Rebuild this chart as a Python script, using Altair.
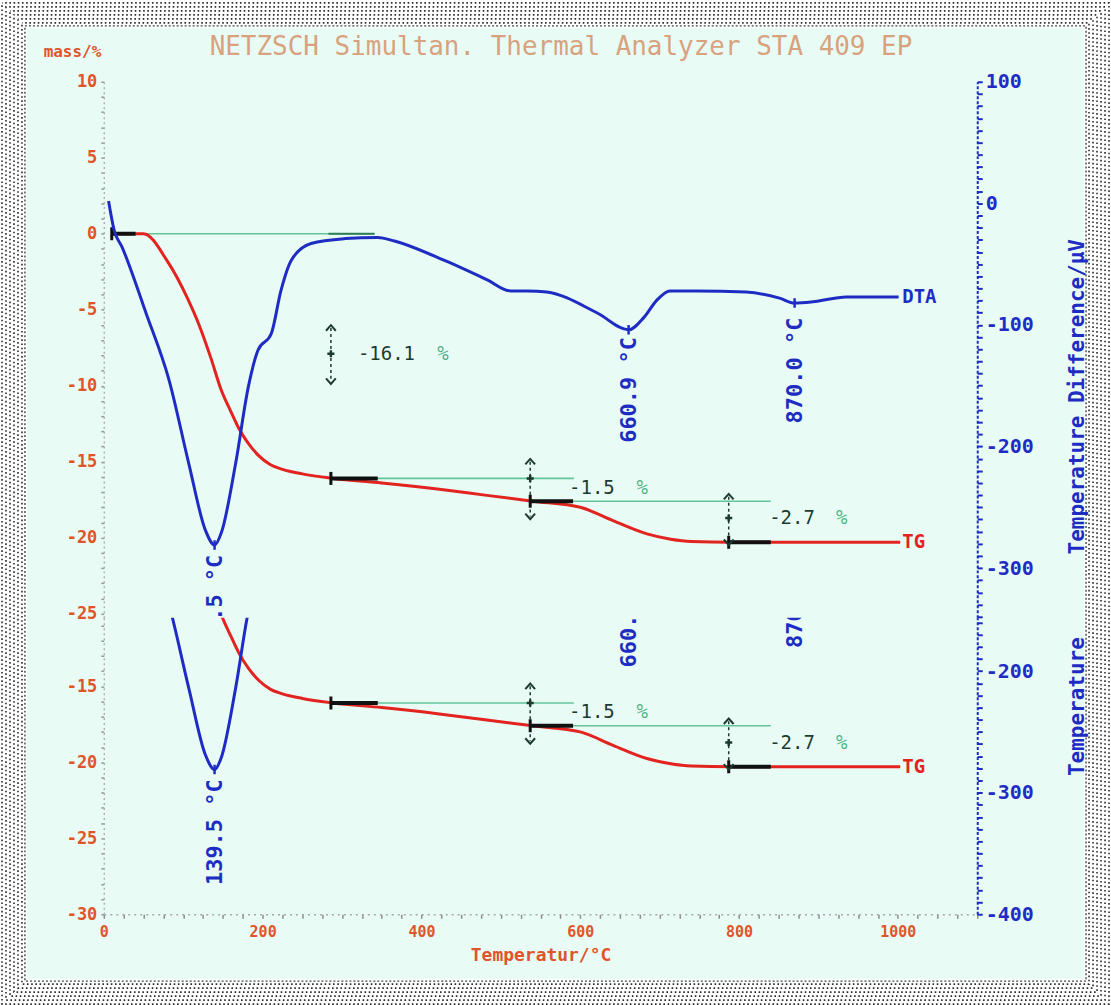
import altair as alt
import pandas as pd

# ---------------- data ----------------
# TG curve: temperature (°C) and mass change (%)
TG_T = [20, 50, 80, 105, 120, 135, 148, 160, 170, 182, 195, 210, 225, 250, 289,
        350, 420, 480, 540, 600, 642, 684, 714, 740, 790, 900, 1003]
TG_M = [0.0, 0.0, -1.8, -4.2, -6.0, -8.2, -10.3, -11.7, -12.8, -13.8, -14.6, -15.2,
        -15.5, -15.8, -16.1, -16.4, -16.8, -17.2, -17.6, -18.0, -18.9, -19.75,
        -20.1, -20.25, -20.3, -20.3, -20.3]

# DTA curve: temperature (°C) and temperature difference (µV)
DTA_T = [6, 13, 23, 53, 82, 107, 128, 139.5, 148, 166, 182, 194, 211, 223, 236,
         261, 304, 345, 366, 429, 483, 512, 533, 558, 621, 660.9, 680, 696, 713,
         747, 809, 851, 870.0, 893, 935, 1001]
DTA_U = [2, -22, -36, -90, -145, -214, -269, -281, -271, -214, -151, -121, -107,
         -72, -47, -33, -29, -28, -31, -47, -63, -72, -72, -73, -90, -104, -94,
         -80, -72, -72, -73, -78, -82, -81, -77, -77]

# step evaluation: green reference lines
REF_T1 = [10, 286, 537]
REF_T2 = [341, 592, 840]
REF_M = [0.0, -16.1, -17.6]
DARK_T1 = [283]
DARK_T2 = [341]
DARK_M = [0.0]
# black step segments
STEP_T1 = [10, 286, 537, 787]
STEP_T2 = [40, 345, 591, 840]
STEP_M = [0.0, -16.1, -17.6, -20.3]
# double arrows of the step evaluation
ARROW_T = [286, 537, 787]
ARROW_TOP = [-6.2, -15.0, -17.3]
ARROW_MID = [-7.9, -16.1, -18.7]
ARROW_BOT = [-9.7, -18.6, -20.3]
STEP_TEXT = ["-16.1", "-1.5", "-2.7"]
STEP_TEXT_T = [320, 586, 838]
STEP_TEXT_M = [-7.9, -16.7, -18.7]
PCT_T = [420, 671, 922]

# DTA peaks
PEAK_T = [139.5, 660.9, 870.0]
PEAK_U = [-281, -104, -82]
PEAK_LABEL = ["139.5 °C", "660.9 °C", "870.0 °C"]
PEAK_LABEL_U = [-289, -110, -94]

END_T = [1003]
TG_END_M = [-20.3]
DTA_END_U = [-77]

LEFT_TICKS = list(range(10, -31, -1))
RIGHT_TICKS = list(range(100, -401, -10))
X_TICKS = list(range(0, 1101, 25))

TITLE = "NETZSCH Simultan. Thermal Analyzer STA 409 EP"

# ---------------- layout / style ----------------
W = 875
H_UP = 537
H_LOW = 297
SKIP = 312              # pixels of the original plot hidden above the lower strip
PX_L = 609 / 40         # px per mass-%
PX_U = 609 / 500        # px per µV
ORIGIN_X, ORIGIN_Y = 103, 80
CANVAS_W, CANVAS_H = 1111, 1005

BG = "#e8fcf5"
RED = "#e2231f"
BLUE = "#1f2cc4"
GREEN = "#62c49a"
DARKG = "#1e3a2e"
ORANGE = "#e0542a"
MONO = "DejaVu Sans Mono"

tg_df = pd.DataFrame({"T": TG_T, "L": TG_M})
dta_df = pd.DataFrame({"T": DTA_T, "U": DTA_U})
ref_df = pd.DataFrame({"T": REF_T1, "T2": REF_T2, "L": REF_M})
dark_df = pd.DataFrame({"T": DARK_T1, "T2": DARK_T2, "L": DARK_M})
step_df = pd.DataFrame({"T": STEP_T1, "T2": STEP_T2, "L": STEP_M})
arrow_df = pd.DataFrame({"T": ARROW_T, "L": ARROW_TOP, "L2": ARROW_BOT})
arrow_top_df = pd.DataFrame({"T": ARROW_T, "L": ARROW_TOP})
arrow_mid_df = pd.DataFrame({"T": ARROW_T, "L": ARROW_MID})
arrow_bot_df = pd.DataFrame({"T": ARROW_T, "L": ARROW_BOT})
text_df = pd.DataFrame({"T": STEP_TEXT_T, "L": STEP_TEXT_M, "label": STEP_TEXT})
pct_df = pd.DataFrame({"T": PCT_T, "L": STEP_TEXT_M, "label": ["%"] * len(PCT_T)})
peak_df = pd.DataFrame({"T": PEAK_T, "U": PEAK_U})
peak_lab_df = pd.DataFrame({"T": PEAK_T, "U": PEAK_LABEL_U, "label": PEAK_LABEL})
tg_end_df = pd.DataFrame({"T": END_T, "L": TG_END_M, "label": ["TG"]})
dta_end_df = pd.DataFrame({"T": END_T, "U": DTA_END_U, "label": ["DTA"]})
frame_src = pd.DataFrame({"k": [0]})

CHEVRON_UP = "M-0.8,0.45L0,-0.45L0.8,0.45"
CHEVRON_DOWN = "M-0.8,-0.45L0,0.45L0.8,-0.45"
PLUS = "M-1,0L1,0M0,-1L0,1"
VTICK = "M0,-1L0,1"


def rect_layer(d, **kw):
    return alt.Chart(frame_src).mark_rect(**kw).encode(
        x=alt.value(d - ORIGIN_X), x2=alt.value(CANVAS_W - d - ORIGIN_X),
        y=alt.value(d - ORIGIN_Y), y2=alt.value(CANVAS_H - d - ORIGIN_Y))


def panel(top_px, height, upper):
    l_top = 10 - top_px / PX_L
    l_bot = l_top - height / PX_L
    u_top = 100 - top_px / PX_U
    u_bot = u_top - height / PX_U

    xs = alt.Scale(domain=[0, 1100], nice=False, zero=False)
    ls = alt.Scale(domain=[l_bot, l_top], nice=False, zero=False)
    us = alt.Scale(domain=[u_bot, u_top], nice=False, zero=False)

    if upper:
        # the instrument header is carried by a bare top axis title
        x_axis = alt.Axis(orient="top", labels=False, ticks=False, domain=False, grid=False,
                          zindex=1, title=TITLE, titleX=W / 2 + 20, titleY=-22,
                          titleAlign="center", titleBaseline="bottom", titleFont=MONO,
                          titleFontSize=26, titleFontWeight="normal", titleColor="#d8a27e")
    else:
        x_axis = alt.Axis(values=X_TICKS, labelExpr="datum.value % 200 == 0 ? '' + datum.value : ''",
                          labelOverlap=False, labelFlush=False, labelBound=False,
                          domainColor="#a8a8a8", domainDash=[2, 4], domainWidth=1.5,
                          tickColor="#8c8c8c", tickSize=4, tickWidth=1.5,
                          labelColor=ORANGE, labelFont=MONO, labelFontSize=15,
                          labelFontWeight="bold", labelPadding=6, grid=False, zindex=1,
                          title="Temperatur/°C", titleColor=ORANGE, titleFont=MONO,
                          titleFontSize=18, titleFontWeight="bold", titleY=41,
                          titleBaseline="middle")

    l_vals = [v for v in LEFT_TICKS if l_bot - 1e-6 <= v <= l_top + 1e-6]
    u_vals = [v for v in RIGHT_TICKS if u_bot - 1e-6 <= v <= u_top + 1e-6]

    left_axis_kw = dict(values=l_vals, labelExpr="datum.value % 5 == 0 ? '' + datum.value : ''",
                        labelOverlap=False, labelFlush=False, labelBound=False,
                        domainColor="#b0b0b0", domainDash=[2, 3], domainWidth=1.5,
                        tickColor="#999999", tickSize=3, tickWidth=1.5,
                        labelColor=ORANGE, labelFont=MONO, labelFontSize=17,
                        labelFontWeight="bold", labelPadding=4, grid=False, zindex=1)
    if upper:
        left_axis = alt.Axis(title="mass/%", titleAngle=0, titleX=-3, titleY=-30,
                             titleAlign="right", titleBaseline="middle", titleColor=ORANGE,
                             titleFont=MONO, titleFontSize=16, titleFontWeight="bold",
                             **left_axis_kw)
    else:
        left_axis = alt.Axis(title="", **left_axis_kw)

    right_axis = alt.Axis(
        orient="right", values=u_vals,
        labelExpr="datum.value % 100 == 0 ? (datum.value >= 0 ? ' ' + datum.value : '' + datum.value) : ''",
        labelOverlap=False, labelFlush=False, labelBound=False,
        domainColor=BLUE, domainDash=[3, 2], domainWidth=2,
        tickColor=BLUE, tickSize=5, tickWidth=2,
        labelColor=BLUE, labelFont=MONO, labelFontSize=20, labelFontWeight="bold",
        labelPadding=3, grid=False, zindex=1,
        title="Temperature Difference/µV" if upper else "Temperature",
        titleAngle=270, titleAlign="left", titleBaseline="middle",
        titleX=100, titleY=473 if upper else 158,
        titleColor=BLUE, titleFont=MONO, titleFontSize=21, titleFontWeight="bold")

    def X(field="T"):
        return alt.X(f"{field}:Q", scale=xs, axis=x_axis)

    def LY(field="L"):
        return alt.Y(f"{field}:Q", scale=ls, axis=left_axis)

    def UY(field="U"):
        return alt.Y(f"{field}:Q", scale=us, axis=right_axis)

    left = alt.layer(
        alt.Chart(ref_df).mark_rule(color=GREEN, strokeWidth=1.6, clip=True).encode(
            x=X(), x2="T2:Q", y=LY()),
        alt.Chart(dark_df).mark_rule(color="#2f7d58", strokeWidth=2.2, clip=True).encode(
            x=X(), x2="T2:Q", y=LY()),
        alt.Chart(arrow_df).mark_rule(color=DARKG, strokeWidth=1.5, strokeDash=[3, 3], clip=True).encode(
            x=X(), y=LY(), y2="L2:Q"),
        alt.Chart(tg_df).mark_line(color=RED, strokeWidth=3, interpolate="monotone", clip=True).encode(
            x=X(), y=LY()),
        alt.Chart(step_df).mark_rule(color="#111111", strokeWidth=4, clip=True).encode(
            x=X(), x2="T2:Q", y=LY()),
        alt.Chart(step_df).mark_point(shape=VTICK, size=170, strokeWidth=3, color="#111111",
                                      opacity=1, clip=True).encode(x=X(), y=LY()),
        alt.Chart(arrow_top_df).mark_point(shape=CHEVRON_UP, size=150, strokeWidth=2, color=DARKG,
                                           opacity=1, clip=True).encode(x=X(), y=LY()),
        alt.Chart(arrow_bot_df).mark_point(shape=CHEVRON_DOWN, size=150, strokeWidth=2, color=DARKG,
                                           opacity=1, clip=True).encode(x=X(), y=LY()),
        alt.Chart(arrow_mid_df).mark_point(shape=PLUS, size=50, strokeWidth=2.5, color=DARKG,
                                           opacity=1, clip=True).encode(x=X(), y=LY()),
        alt.Chart(text_df).mark_text(font=MONO, fontSize=19, color=DARKG, align="left",
                                     baseline="middle", clip=True).encode(
            x=X(), y=LY(), text="label:N"),
        alt.Chart(pct_df).mark_text(font=MONO, fontSize=19, color="#4fb487", align="left",
                                    baseline="middle", clip=True).encode(
            x=X(), y=LY(), text="label:N"),
        alt.Chart(tg_end_df).mark_text(font=MONO, fontSize=19, fontWeight="bold", color=RED,
                                       align="left", baseline="middle", dx=2, clip=True).encode(
            x=X(), y=LY(), text="label:N"),
    )

    right = alt.layer(
        alt.Chart(dta_df).mark_line(color=BLUE, strokeWidth=3, interpolate="monotone", clip=True).encode(
            x=X(), y=UY()),
        alt.Chart(peak_df).mark_point(shape=VTICK, size=90, strokeWidth=2.5, color=BLUE,
                                      opacity=1, clip=True).encode(x=X(), y=UY()),
        alt.Chart(peak_lab_df).mark_text(font=MONO, fontSize=22, fontWeight="bold", color=BLUE,
                                         angle=270, align="right", baseline="middle",
                                         clip=True).encode(x=X(), y=UY(), text="label:N"),
        alt.Chart(dta_end_df).mark_text(font=MONO, fontSize=19, fontWeight="bold", color=BLUE,
                                        align="left", baseline="middle", dx=2, clip=True).encode(
            x=X(), y=UY(), text="label:N"),
    )

    layers = []
    if upper:
        for d in [1, 5, 9, 13, 17, 21]:
            layers.append(rect_layer(d, filled=False, stroke="#2b2b2b", strokeWidth=1.6,
                                     strokeDash=[1.6, 2.6], strokeDashOffset=(d % 4) * 1.0))
        layers.append(rect_layer(24, filled=False, stroke="#444444", strokeWidth=1.4,
                                 strokeDash=[2, 2]))
        layers.append(rect_layer(26, fill=BG))
    layers += [left, right]

    return alt.layer(*layers).resolve_scale(y="independent").properties(width=W, height=height)


upper = panel(0, H_UP, True)
lower = panel(SKIP, H_LOW, False)

chart = alt.vconcat(upper, lower, spacing=0, bounds="flush").resolve_scale(
    x="independent", y="independent"
).properties(padding=0, background="white").configure_view(stroke="transparent")

chart.save("out.html", embed_options={"renderer": "svg", "actions": False})
